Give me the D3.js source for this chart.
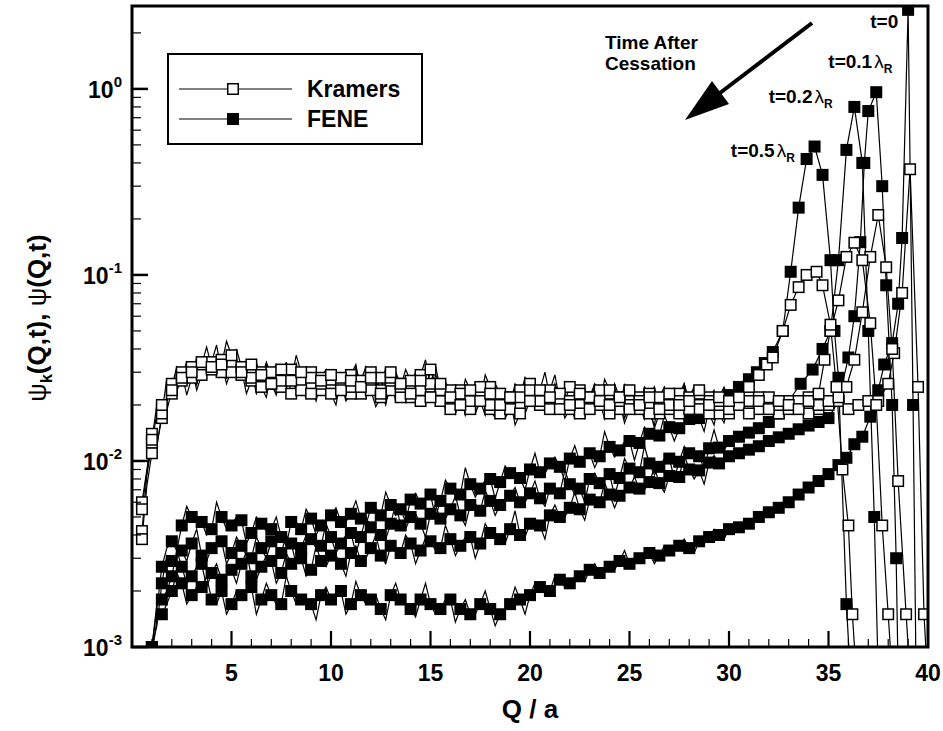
<!DOCTYPE html>
<html>
<head>
<meta charset="utf-8">
<script src="https://cdn.jsdelivr.net/npm/d3@7"></script>
<style>
  html, body { margin: 0; padding: 0; background: #fff; }
  svg { display: block; }
  text { font-family: "Liberation Sans", Arial, sans-serif; font-weight: bold; fill: #000; }
</style>
</head>
<body>
<svg id="chart" width="943" height="731"></svg>
<script>
// ---------------- DATA ----------------
// common Q grid (Q/a) for the low-Q part of every curve (marker points)
const qLow = [0.5,1,1.5,2,2.5,3,3.5,4,4.5,5,5.5,6,6.5,7,7.5,8,8.5,9,9.5,10,
  10.5,11,11.5,12,12.5,13,13.5,14,14.5,15,15.5,16,16.5,17,17.5,18,18.5,19,19.5,20,
  20.5,21,21.5,22,22.5,23,23.5,24,24.5,25,25.5,26,26.5,27,27.5,28,28.5,29,29.5,30];

// ---- Kramers chain (open squares) ----  *Low = marker points, *Mid = noisy points between them
const kramersT0Low = [0.0042,0.0125,0.019,0.025,0.029,0.031,0.033,0.032,0.034,0.031,
  0.029,0.031,0.027,0.029,0.025,0.028,0.026,0.030,0.024,0.027,
  0.025,0.029,0.023,0.026,0.028,0.024,0.026,0.022,0.029,0.025,
  0.023,0.021,0.024,0.020,0.023,0.019,0.022,0.020,0.024,0.021,
  0.023,0.020,0.022,0.019,0.024,0.021,0.020,0.023,0.019,0.021,
  0.022,0.020,0.018,0.021,0.023,0.019,0.020,0.022,0.018,0.020];
const kramersT0Mid = [0.0084,0.018,0.021,0.032,0.026,0.034,0.041,0.030,0.026,0.033,
  0.030,0.023,0.034,0.026,0.034,0.024,0.029,0.022,0.029,0.026,
  0.022,0.033,0.023,0.030,0.021,0.030,0.024,0.022,0.035,0.022,
  0.023,0.018,0.025,0.020,0.026,0.017,0.021,0.026,0.018,0.024,
  0.020,0.026,0.017,0.023,0.018,0.025,0.021,0.018,0.026,0.019,
  0.023,0.015,0.022,0.021,0.026,0.016,0.022,0.024,0.016];
const kramersT0TailQ = [30.5,31,31.5,32,32.5,33,33.5,34,34.5,35,35.5,36,36.5,37,37.5,38,38.3,38.7,39.1,39.5,39.8,40];
const kramersT0Tail  = [0.021,0.019,0.022,0.020,0.018,0.021,0.020,0.022,0.019,0.020,0.021,0.019,0.020,0.021,0.021,0.026,0.038,0.080,0.37,0.025,0.0015,0.0006];

const kramersT01Low = [0.006,0.014,0.017,0.023,0.030,0.028,0.031,0.034,0.030,0.033,
  0.031,0.027,0.030,0.026,0.029,0.023,0.027,0.025,0.028,0.024,
  0.027,0.023,0.026,0.030,0.024,0.027,0.022,0.025,0.024,0.031,
  0.021,0.024,0.022,0.019,0.021,0.025,0.018,0.022,0.020,0.026,
  0.020,0.024,0.021,0.025,0.020,0.022,0.024,0.018,0.022,0.020,
  0.019,0.023,0.021,0.019,0.018,0.022,0.019,0.021,0.020,0.018];
const kramersT01Mid = [0.009,0.0124,0.022,0.0265,0.0226,0.035,0.031,0.042,0.028,0.034,
  0.023,0.033,0.028,0.0226,0.0325,0.023,0.0286,0.021,0.031,0.0255,
  0.021,0.031,0.025,0.028,0.020,0.028,0.022,0.030,0.023,0.026,
  0.0265,0.018,0.0225,0.018,0.029,0.018,0.021,0.017,0.028,0.023,
  0.019,0.029,0.021,0.024,0.017,0.026,0.020,0.024,0.017,0.020,
  0.025,0.019,0.020,0.021,0.019,0.025,0.017,0.0215,0.024];
const kramersT01TailQ = [30.5,31,31.5,32,32.5,33,33.5,34,34.5,35,35.5,35.9,36.3,36.7,37.1,37.5,37.9,38.2,38.5,38.9,39.1];
const kramersT01Tail  = [0.020,0.021,0.019,0.022,0.020,0.019,0.021,0.018,0.020,0.021,0.022,0.025,0.035,0.063,0.125,0.21,0.11,0.04,0.0078,0.0015,0.0007];

const kramersT02Low = [0.0038,0.011,0.018,0.026,0.027,0.032,0.029,0.031,0.035,0.030,
  0.032,0.028,0.025,0.030,0.027,0.031,0.024,0.028,0.026,0.023,
  0.028,0.025,0.027,0.024,0.022,0.028,0.025,0.027,0.021,0.026,
  0.024,0.019,0.023,0.021,0.025,0.020,0.023,0.019,0.022,0.024,
  0.021,0.019,0.023,0.021,0.018,0.022,0.020,0.024,0.021,0.019,
  0.021,0.018,0.022,0.020,0.021,0.019,0.023,0.018,0.021,0.019];
const kramersT02Mid = [0.0074,0.0119,0.0275,0.024,0.032,0.024,0.036,0.033,0.028,0.040,
  0.027,0.028,0.022,0.033,0.0275,0.0335,0.022,0.027,0.029,0.020,
  0.029,0.024,0.032,0.0196,0.026,0.021,0.031,0.024,0.021,0.0325,
  0.019,0.0227,0.0176,0.026,0.021,0.026,0.017,0.0215,0.028,0.019,
  0.020,0.024,0.021,0.023,0.017,0.022,0.0275,0.020,0.016,0.022,
  0.0195,0.0156,0.025,0.0195,0.026,0.0185,0.0215,0.0156,0.023];
const kramersT02TailQ = [30.5,31,31.5,32,32.5,33,33.5,34,34.5,34.8,35.1,35.5,35.9,36.3,36.7,37.1,37.4,37.7,38.0,38.2];
const kramersT02Tail  = [0.020,0.018,0.021,0.019,0.021,0.020,0.019,0.021,0.023,0.035,0.050,0.073,0.125,0.149,0.12,0.055,0.020,0.0045,0.0015,0.0007];

const kramersT05Low = [0.0055,0.013,0.020,0.024,0.028,0.030,0.034,0.032,0.033,0.037,
  0.030,0.033,0.029,0.026,0.031,0.027,0.030,0.023,0.027,0.029,
  0.024,0.027,0.025,0.028,0.023,0.030,0.026,0.023,0.027,0.022,
  0.026,0.022,0.020,0.024,0.021,0.023,0.020,0.022,0.018,0.021,
  0.024,0.022,0.019,0.020,0.023,0.019,0.021,0.020,0.022,0.024,
  0.020,0.022,0.019,0.023,0.020,0.021,0.024,0.020,0.022,0.021];
const kramersT05Mid = [0.0088,0.020,0.0187,0.026,0.034,0.0256,0.036,0.030,0.044,0.0285,
  0.033,0.025,0.033,0.0285,0.0255,0.037,0.024,0.027,0.0224,0.030,
  0.024,0.032,0.0217,0.027,0.032,0.024,0.0245,0.029,0.023,0.029,
  0.020,0.022,0.0275,0.020,0.0176,0.024,0.021,0.0156,0.023,0.021,
  0.030,0.018,0.020,0.017,0.024,0.020,0.0168,0.026,0.021,0.024,
  0.0168,0.025,0.021,0.018,0.026,0.020,0.023,0.0168,0.025];
const kramersT05TailQ = [30.5,31,31.5,31.9,32.2,32.7,33.1,33.5,33.9,34.4,34.7,35.1,35.4,35.7,36.0,36.2,36.4];
const kramersT05Tail  = [0.022,0.025,0.029,0.033,0.036,0.050,0.069,0.086,0.100,0.104,0.088,0.054,0.025,0.009,0.0045,0.0015,0.0007];

// ---- FENE chain (filled squares) ----
const feneT0Low = [0.0004,0.0009,0.0015,0.0020,0.0022,0.0019,0.0021,0.0018,0.0020,0.0017,
  0.0019,0.0021,0.0018,0.0019,0.0017,0.0020,0.0018,0.0017,0.0019,0.0018,
  0.0020,0.0017,0.0019,0.0018,0.0016,0.0019,0.0018,0.0016,0.0018,0.0017,
  0.0016,0.0018,0.0016,0.0015,0.0017,0.0016,0.0015,0.0017,0.0018,0.0019,
  0.0021,0.0020,0.0023,0.0022,0.0024,0.0026,0.0025,0.0027,0.0029,0.0028,
  0.0030,0.0032,0.0031,0.0033,0.0035,0.0034,0.0037,0.0039,0.0040,0.0043];
const feneT0Mid = [0.00065,0.0014,0.0017,0.0025,0.0017,0.0021,0.0024,0.0017,0.0015,0.0020,
  0.0020,0.0015,0.0022,0.0017,0.0024,0.0017,0.0018,0.0014,0.0021,0.0019,
  0.0015,0.00225,0.0017,0.0019,0.0014,0.0022,0.0017,0.00145,0.0022,0.0015,
  0.0018,0.00136,0.0018,0.0015,0.0020,0.0013,0.0016,0.0021,0.0015,0.0022,
  0.0020,0.0024,0.0021,0.0024,0.00225,0.0028,0.0026,0.0026,0.0033,0.0028,
  0.0032,0.0028,0.0035,0.0033,0.0038,0.0032,0.0039,0.0043,0.0038];
const feneT0TailQ = [30.5,31,31.5,32,32.5,33,33.5,34,34.5,35,35.5,35.9,36.3,36.7,37.1,37.5,37.8,38.2,38.5,38.7,39.0,39.25,39.4];
const feneT0Tail  = [0.0044,0.0046,0.0050,0.0053,0.0056,0.0060,0.0066,0.0072,0.0078,0.0085,0.0095,0.0104,0.0123,0.0135,0.0173,0.024,0.033,0.043,0.070,0.158,2.66,0.02,0.0007];

const feneT01Low = [0.0005,0.0010,0.0018,0.0024,0.0027,0.0024,0.0028,0.0025,0.0023,0.0026,
  0.0028,0.0024,0.0027,0.0029,0.0025,0.0028,0.0030,0.0026,0.0029,0.0031,
  0.0028,0.0032,0.0029,0.0034,0.0031,0.0035,0.0032,0.0036,0.0033,0.0037,
  0.0034,0.0038,0.0035,0.0039,0.0036,0.0041,0.0038,0.0043,0.0040,0.0046,
  0.0045,0.0051,0.0050,0.0056,0.0055,0.0062,0.0060,0.0066,0.0065,0.0072,
  0.0071,0.0077,0.0076,0.0083,0.0082,0.0090,0.0089,0.0098,0.0097,0.0106];
const feneT01Mid = [0.0006,0.0017,0.0020,0.0033,0.0022,0.0027,0.0021,0.0028,0.00245,0.0022,
  0.00325,0.0023,0.0031,0.0022,0.0032,0.0029,0.0024,0.0035,0.0027,0.0031,
  0.0024,0.0035,0.0030,0.0040,0.0028,0.00335,0.0040,0.0028,0.00385,0.0033,
  0.0045,0.0031,0.0039,0.0030,0.0046,0.00395,0.0036,0.0054,0.0039,0.0049,
  0.0038,0.0058,0.0050,0.0068,0.0048,0.0064,0.0076,0.0056,0.00685,0.0082,
  0.0070,0.0092,0.0068,0.0087,0.0108,0.0080,0.0075,0.0107,0.0102];
const feneT01TailQ = [30.5,31,31.5,32,32.5,33,33.5,34,34.5,35,35.5,36,36.3,36.6,36.8,37.0,37.4,37.7,37.9,38.2,38.4,38.5];
const feneT01Tail  = [0.011,0.0115,0.012,0.0128,0.0134,0.014,0.0148,0.0155,0.0162,0.017,0.021,0.036,0.06,0.15,0.40,0.76,0.96,0.30,0.088,0.02,0.003,0.0007];

const feneT02Low = [0.0005,0.0010,0.0022,0.0029,0.0033,0.0036,0.0031,0.0034,0.0037,0.0032,
  0.0035,0.0030,0.0034,0.0037,0.0032,0.0036,0.0034,0.0038,0.0035,0.0039,
  0.0036,0.0041,0.0039,0.0044,0.0040,0.0046,0.0045,0.0050,0.0046,0.0052,
  0.0049,0.0055,0.0051,0.0058,0.0054,0.0061,0.0058,0.0065,0.0060,0.0067,
  0.0063,0.0071,0.0067,0.0075,0.0071,0.0080,0.0076,0.0085,0.0081,0.0091,
  0.0087,0.0097,0.0093,0.0103,0.0099,0.0110,0.0106,0.0117,0.0118,0.0128];
const feneT02Mid = [0.0008,0.0013,0.0031,0.0031,0.0029,0.0043,0.0029,0.0037,0.0028,0.0039,
  0.0031,0.0039,0.0030,0.00345,0.0040,0.0028,0.0040,0.0034,0.0046,0.0032,
  0.0040,0.0032,0.0050,0.0042,0.0038,0.0059,0.0043,0.0052,0.0039,0.0058,
  0.0049,0.0065,0.0045,0.0059,0.0069,0.0051,0.00615,0.0072,0.0060,0.0078,
  0.0057,0.0072,0.0089,0.0066,0.0060,0.0086,0.0080,0.0065,0.0103,0.0085,
  0.0120,0.0084,0.0103,0.0081,0.0120,0.0108,0.0091,0.0147,0.0113];
const feneT02TailQ = [30.5,31,31.5,32,32.5,33,33.6,34.2,34.7,35.1,35.5,35.9,36.3,36.7,37.0,37.3,37.5];
const feneT02Tail  = [0.0135,0.0142,0.015,0.0162,0.018,0.021,0.026,0.031,0.040,0.050,0.12,0.47,0.80,0.40,0.05,0.005,0.0007];

const feneT05Low = [0.0005,0.0010,0.0027,0.0037,0.0045,0.0050,0.0047,0.0043,0.0050,0.0045,
  0.0048,0.0041,0.0046,0.0043,0.0039,0.0047,0.0043,0.0049,0.0045,0.0051,
  0.0047,0.0052,0.0049,0.0056,0.0051,0.0058,0.0055,0.0062,0.0059,0.0066,
  0.0061,0.0071,0.0066,0.0075,0.0071,0.0080,0.0077,0.0086,0.0081,0.0090,
  0.0087,0.0097,0.0093,0.0103,0.0099,0.0110,0.0106,0.0119,0.0114,0.0128,
  0.0125,0.0140,0.0137,0.0152,0.0150,0.0168,0.0170,0.0190,0.0198,0.0226];
const feneT05Mid = [0.0009,0.0016,0.0034,0.0033,0.0057,0.0049,0.0040,0.0060,0.0043,0.0050,
  0.0036,0.0050,0.0042,0.0050,0.0035,0.0047,0.0055,0.0040,0.0048,0.0056,
  0.0047,0.0061,0.0045,0.0056,0.0068,0.0051,0.0047,0.0067,0.00625,0.0050,
  0.0079,0.0065,0.0092,0.0064,0.0079,0.0063,0.0094,0.00835,0.0070,0.0110,
  0.0085,0.0105,0.0078,0.0121,0.01045,0.0092,0.0144,0.0105,0.0127,0.0101,
  0.0152,0.0132,0.0176,0.0128,0.0159,0.0199,0.0144,0.0213,0.0195];
const feneT05TailQ = [30.5,31,31.4,31.8,32.2,32.7,33.1,33.5,33.9,34.3,34.7,35.1,35.3,35.5,35.9,36.1];
const feneT05Tail  = [0.025,0.0275,0.030,0.0336,0.0385,0.050,0.104,0.23,0.42,0.49,0.345,0.12,0.05,0.028,0.0017,0.0007];

// axis ticks and labels
const xTickLabels = [5,10,15,20,25,30,35,40];
const yDecades = [1e-3,1e-2,1e-1,1e0];
const yTickLabels = ["-3","-2","-1","0"];
const legendLabels = ["Kramers","FENE"];
const timeLabels = [
  {pre:"t=0",   sub:"",  lam:false, q:37.8, psi:2.13},
  {pre:"t=0.1", sub:"R", lam:true,  q:36.6, psi:1.30},
  {pre:"t=0.2", sub:"R", lam:true,  q:33.6, psi:0.84},
  {pre:"t=0.5", sub:"R", lam:true,  q:31.7, psi:0.43}
];

// ---------------- CHART ----------------
const svg = d3.select("#chart");
const M = {left:132, right:928, top:6, bottom:647};
const x = d3.scaleLinear().domain([0,40]).range([M.left, M.right]);
const y = d3.scaleLog().domain([1e-3, 2.79]).range([M.bottom, M.top]);

function build(low, mid, tailQ, tail) {
  const linePts = [], markPts = [];
  qLow.forEach((q,i)=>{
    linePts.push([q, low[i]]); markPts.push([q, low[i]]);
    if (i < mid.length) linePts.push([(q + qLow[i+1]) / 2, mid[i]]);
  });
  tailQ.forEach((q,i)=>{ linePts.push([q, tail[i]]); markPts.push([q, tail[i]]); });
  return {linePts, markPts};
}
const kramers = [
  build(kramersT0Low,  kramersT0Mid,  kramersT0TailQ,  kramersT0Tail),
  build(kramersT01Low, kramersT01Mid, kramersT01TailQ, kramersT01Tail),
  build(kramersT02Low, kramersT02Mid, kramersT02TailQ, kramersT02Tail),
  build(kramersT05Low, kramersT05Mid, kramersT05TailQ, kramersT05Tail)
];
const fene = [
  build(feneT0Low,  feneT0Mid,  feneT0TailQ,  feneT0Tail),
  build(feneT01Low, feneT01Mid, feneT01TailQ, feneT01Tail),
  build(feneT02Low, feneT02Mid, feneT02TailQ, feneT02Tail),
  build(feneT05Low, feneT05Mid, feneT05TailQ, feneT05Tail)
];

svg.append("defs").append("clipPath").attr("id","plotclip")
  .append("rect").attr("x",M.left).attr("y",M.top)
  .attr("width",M.right-M.left).attr("height",M.bottom-M.top);

const plot = svg.append("g").attr("clip-path","url(#plotclip)");
const line = d3.line().x(d=>x(d[0])).y(d=>y(Math.max(d[1],2e-4)));
const MS = 12;

[...kramers, ...fene].forEach(s=>{
  plot.append("path").attr("d", line(s.linePts)).attr("fill","none")
    .attr("stroke","#000").attr("stroke-width",1.2);
});
fene.forEach(s=>{
  plot.append("g").selectAll("rect").data(s.markPts.filter(d=>d[1]>=8e-4)).join("rect")
    .attr("x",d=>x(d[0])-MS/2).attr("y",d=>y(d[1])-MS/2)
    .attr("width",MS).attr("height",MS).attr("fill","#000");
});
kramers.forEach(s=>{
  plot.append("g").selectAll("rect").data(s.markPts.filter(d=>d[1]>=8e-4)).join("rect")
    .attr("x",d=>x(d[0])-MS/2+0.75).attr("y",d=>y(d[1])-MS/2+0.75)
    .attr("width",MS-1.5).attr("height",MS-1.5).attr("fill","#fff")
    .attr("stroke","#000").attr("stroke-width",1.5);
});

// frame
svg.append("rect").attr("x",M.left).attr("y",M.top)
  .attr("width",M.right-M.left).attr("height",M.bottom-M.top)
  .attr("fill","none").attr("stroke","#000").attr("stroke-width",3);

// x ticks (inward)
const xMinor = d3.range(1,40).filter(v=>v%5!==0);
svg.append("g").selectAll("line").data(xMinor).join("line")
  .attr("x1",d=>x(d)).attr("x2",d=>x(d)).attr("y1",M.bottom).attr("y2",M.bottom-8)
  .attr("stroke","#000").attr("stroke-width",1.2);
svg.append("g").selectAll("line").data(xTickLabels.filter(v=>v<40)).join("line")
  .attr("x1",d=>x(d)).attr("x2",d=>x(d)).attr("y1",M.bottom).attr("y2",M.bottom-16)
  .attr("stroke","#000").attr("stroke-width",2.2);
svg.append("g").selectAll("text").data(xTickLabels).join("text")
  .attr("x",d=>x(d)).attr("y",681).attr("text-anchor","middle")
  .attr("font-size",23).text(d=>d);

// y ticks (inward)
const yMinor = [];
yDecades.forEach(dec=>{ for(let k=2;k<=9;k++){ const v=dec*k; if(v<=y.domain()[1]) yMinor.push(v);} });
svg.append("g").selectAll("line").data(yMinor).join("line")
  .attr("x1",M.left).attr("x2",M.left+9).attr("y1",d=>y(d)).attr("y2",d=>y(d))
  .attr("stroke","#000").attr("stroke-width",1.2);
svg.append("g").selectAll("line").data(yDecades).join("line")
  .attr("x1",M.left).attr("x2",M.left+16).attr("y1",d=>y(d)).attr("y2",d=>y(d))
  .attr("stroke","#000").attr("stroke-width",2.5);
const yl = svg.append("g").selectAll("text").data(yDecades).join("text")
  .attr("x",122).attr("y",d=>y(d)+9).attr("text-anchor","end").attr("font-size",23);
yl.append("tspan").text("10");
yl.append("tspan").attr("font-size",15).attr("dy",-11).text((d,i)=>yTickLabels[i]);

// axis titles
svg.append("text").attr("x",(M.left+M.right)/2).attr("y",718).attr("text-anchor","middle")
  .attr("font-size",26).text("Q / a");
const yt = svg.append("text").attr("transform","translate(46,318) rotate(-90)")
  .attr("text-anchor","middle").attr("font-size",26);
yt.append("tspan").attr("font-weight","normal").text("ψ");
yt.append("tspan").attr("font-size",16).attr("dy",6).text("k");
yt.append("tspan").attr("dy",-6).text("(Q,t), ");
yt.append("tspan").attr("font-weight","normal").text("ψ");
yt.append("tspan").text("(Q,t)");

// legend
const lg = svg.append("g");
lg.append("rect").attr("x",168).attr("y",54).attr("width",254).attr("height",90)
  .attr("fill","#fff").attr("stroke","#000").attr("stroke-width",2);
[89,119].forEach((ly,i)=>{
  lg.append("line").attr("x1",179).attr("x2",292).attr("y1",ly).attr("y2",ly)
    .attr("stroke","#000").attr("stroke-width",1.2);
  if(i===0){
    lg.append("rect").attr("x",233-MS/2+0.75).attr("y",ly-MS/2+0.75).attr("width",MS-1.5).attr("height",MS-1.5)
      .attr("fill","#fff").attr("stroke","#000").attr("stroke-width",1.5);
  } else {
    lg.append("rect").attr("x",233-MS/2).attr("y",ly-MS/2).attr("width",MS).attr("height",MS).attr("fill","#000");
  }
  lg.append("text").attr("x",307).attr("y",ly+8).attr("font-size",23).text(legendLabels[i]);
});

// annotation
svg.append("text").attr("x",605).attr("y",49).attr("font-size",19).text("Time After");
svg.append("text").attr("x",605).attr("y",70).attr("font-size",19).text("Cessation");
svg.append("line").attr("x1",812).attr("y1",23).attr("x2",716).attr("y2",96)
  .attr("stroke","#000").attr("stroke-width",4);
svg.append("polygon").attr("points","685,120 729,104 712,81").attr("fill","#000");

timeLabels.forEach(t=>{
  const tx = svg.append("text").attr("x",x(t.q)).attr("y",y(t.psi)).attr("text-anchor","middle")
    .attr("font-size",19);
  tx.append("tspan").text(t.pre);
  if(t.lam){
    tx.append("tspan").attr("font-weight","normal").attr("dx",2).text("λ");
    tx.append("tspan").attr("font-size",12).attr("dy",5).text(t.sub);
  }
});
</script>
</body>
</html>
